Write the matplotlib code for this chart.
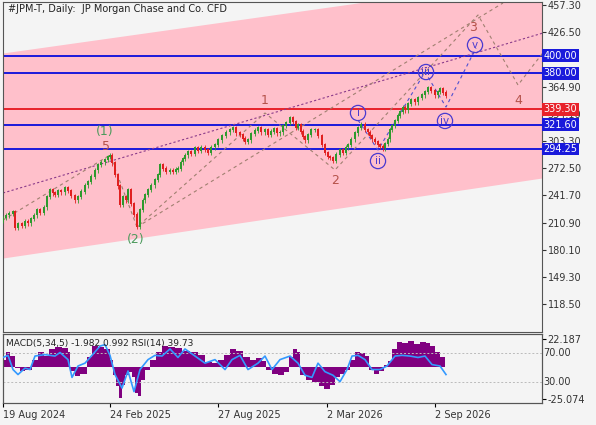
import matplotlib
matplotlib.use("Agg")
import matplotlib.pyplot as plt
import numpy as np

# price path (x = bar position, close values)
px = [3,6,9,13,15,18,22,25,28,31,34,37,40,44,47,50,53,55,58,61,65,68,71,75,78,81,85,88,91,95,98,101,105,108,110,
      112,115,118,120,123,126,128,131,134,137,140,143,145,148,151,155,158,160,163,166,170,173,176,178,181,183,185,
      188,191,195,198,201,205,208,211,215,218,222,226,230,233,236,240,243,245,248,251,255,258,261,265,268,271,274,
      277,280,283,286,290,293,296,298,301,303,305,308,311,315,318,322,325,328,330,333,336,340,343,346,348,351,355,
      358,361,365,368,370,372,375,378,380,383,385,388,390,392,395,398,400,403,405,408,411,415,418,422,425,428,431,
      435,438,440,443,446]
pc = [216,219,221,223,205,209,207,212,210,215,219,225,222,228,240,248,244,242,247,245,250,247,241,236,240,246,253,
      257,263,270,276,279,282,285,287,278,265,252,231,240,236,248,232,220,206,225,236,242,248,253,259,265,276,272,
      268,270,268,271,272,279,283,287,291,289,295,292,296,293,290,296,299,304,309,313,316,318,312,310,306,302,304,
      311,315,318,313,316,310,314,317,312,313,320,324,329,325,318,321,314,308,304,310,316,316,309,299,290,285,284,
      281,288,293,290,296,299,305,312,318,322,316,313,309,305,302,299,297,295,300,305,316,320,326,332,336,341,338,
      345,350,347,352,355,359,363,360,355,359,362,358,354,350,346,342]

macd_x = [2,6,10,15,20,25,32,38,44,49,55,62,68,70,75,80,87,92,98,104,110,113,116,119,122,125,129,132,135,138,141,145,
          150,156,162,168,175,182,190,198,205,212,218,224,230,236,243,250,256,262,266,272,278,284,289,293,297,300,
          306,312,319,324,330,335,340,345,350,355,360,365,369,374,379,384,388,392,397,402,408,414,420,426,430,435,
          440,445]
macd_v = [6,12,9,-1,-3,-2,6,12,9,14,16,15,12,-3,-7,-5,8,17,16,14,6,-6,-15,-24,-14,-6,-4,-8,-20,-23,-10,-2,6,12,17,
          16,15,13,12,10,4,3,6,10,14,13,8,6,7,5,-2,-5,-6,-4,8,14,12,-6,-10,-12,-15,-17,-14,-8,-5,-2,6,12,11,
          9,-2,-5,-3,2,5,14,20,19,21,18,20,19,17,12,8,4]

rsi_x = [3,8,13,18,25,30,35,45,55,60,68,72,78,85,92,100,105,110,115,122,128,134,140,148,155,162,170,178,185,195,
         205,215,225,232,240,248,258,265,272,280,290,298,305,312,318,325,333,340,347,352,358,365,372,380,387,395,
         402,410,418,425,432,440,446]
rsi_v = [64,67,47,40,49,47,66,68,66,71,61,36,52,56,67,80,82,67,40,21,45,16,47,61,67,66,76,64,76,66,
         56,61,47,61,67,47,56,66,47,61,66,56,39,36,56,44,39,30,47,66,67,61,47,47,52,66,
         67,66,64,66,54,52,40]

levels_blue = [400.00, 380.00, 321.60, 294.25]
level_red = 339.30
yticks = [457.30, 426.50, 364.90, 334.10, 303.30, 272.50, 241.70, 210.90, 180.10, 149.30, 118.50]
xtick_pos = [3, 110, 218, 327, 435]
xtick_labels = ["19 Aug 2024", "24 Feb 2025", "27 Aug 2025", "2 Mar 2026", "2 Sep 2026"]

chan_x = [3, 542]
chan_up = [403, 489]
chan_lo = [170.8, 261.4]

wave_x = [110, 137, 265, 335, 478, 518, 545]
wave_y = [287.4, 205.9, 335.0, 270.5, 446, 366.7, 406.3]
sub_x = [358, 378, 425, 446, 476]
sub_y = [327, 293.1, 381.4, 341.8, 408.6]

bg = "#f4f4f4"
fig = plt.figure(figsize=(5.96, 4.25), dpi=100, facecolor=bg)
ax = fig.add_axes([3/596, (425-332)/425, 539/596, 330/425], facecolor=bg)
ax.set_xlim(3, 542)
ax.set_ylim(87.0, 460.7)

ax.fill_between(chan_x, chan_lo, chan_up, color="#ffc0cb", zorder=0, lw=0)

for lv in levels_blue:
    ax.axhline(lv, color="#1a1adb", lw=1.4, zorder=2)
ax.axhline(level_red, color="#e8222a", lw=1.4, zorder=2)

ax.plot([3, 543], [244.4, 425.6], color="#8a3a8a", lw=0.8, ls=(0, (2, 2)), zorder=2)
ax.plot([137, 503], [205.9, 459.6], color="#a08070", lw=0.8, ls=(0, (3, 3)), zorder=2)
ax.plot([3, 110], [213.8, 287.4], color="#a08070", lw=0.8, ls=(0, (3, 3)), zorder=2)
ax.plot(wave_x, wave_y, color="#a08070", lw=0.8, ls=(0, (3, 3)), zorder=2)
ax.plot(sub_x, sub_y, color="#5050d0", lw=0.8, ls=(0, (3, 3)), zorder=2)

opens = [pc[0] - 3] + pc[:-1]
for x, o, c in zip(px, opens, pc):
    col = "#2e9a2e" if c >= o else "#e02020"
    ax.vlines(x, min(o, c) - 2.5, max(o, c) + 2.5, color=col, lw=0.6, zorder=3)
    ax.bar(x, abs(c - o) + 1, bottom=min(o, c), width=2.0, color=col, zorder=3, lw=0)

brown = "#b5524a"; green = "#4c9a5c"; purple = "#4a3ad0"
for t, x, y, c in [("(1)", 105, 314.6, green), ("(2)", 136, 191.2, green), ("5", 106, 296.5, brown),
                   ("1", 265, 348.6, brown), ("2", 335, 259.1, brown), ("3", 473, 431.3, brown),
                   ("4", 518, 349.7, brown)]:
    ax.text(x, y, t, color=c, fontsize=9, ha="center", va="center", zorder=5)
for t, x, y in [("i", 358, 335.0), ("ii", 378, 280.6), ("iii", 426, 381.4), ("iv", 445, 326.0), ("v", 475, 412.0)]:
    ax.text(x, y, t, color=purple, fontsize=7.5, ha="center", va="center", zorder=5,
            bbox=dict(boxstyle="circle,pad=0.25", fc="none", ec=purple, lw=0.9))

ax.text(0.01, 0.995, "#JPM-T, Daily:  JP Morgan Chase and Co. CFD", transform=ax.transAxes,
        fontsize=7, va="top", ha="left", color="#222222")

ax.yaxis.tick_right()
ax.set_yticks(yticks)
ax.set_yticklabels([f"{v:.2f}" for v in yticks], fontsize=7, color="#333333")
ax.tick_params(axis="y", length=3, pad=1, colors="#333333")
ax.set_xticks([])
for lv, col in [(400.00, "#1a1adb"), (380.00, "#1a1adb"), (339.30, "#e8222a"), (321.60, "#1a1adb"), (294.25, "#1a1adb")]:
    ax.text(1.003, lv, f"{lv:.2f}", transform=ax.get_yaxis_transform(), fontsize=7, color="white",
            va="center", ha="left", zorder=6, clip_on=False,
            bbox=dict(boxstyle="square,pad=0.15", fc=col, ec="none"))
for s in ax.spines.values():
    s.set_color("#555555"); s.set_linewidth(0.8)

ax2 = fig.add_axes([3/596, (425-403)/425, 539/596, 69/425], facecolor=bg)
ax2.set_xlim(3, 542)
ax2.set_ylim(0, 97)
ax3 = ax2.twinx()
ax3.set_ylim(-28.28, 26.19)
ax3.fill_between(macd_x, 0, macd_v, step="post", color="#800080", lw=0, zorder=1)
ax2.set_zorder(ax3.get_zorder() + 1); ax2.patch.set_visible(False)
ax3.patch.set_facecolor(bg); ax3.patch.set_visible(True)
ax2.plot(rsi_x, rsi_v, color="#3399ff", lw=1.2, zorder=3)
for lv in [70, 30]:
    ax2.axhline(lv, color="#bbbbbb", lw=0.7, ls=(0, (2, 2)), zorder=2)
ax2.set_yticks([])
ax3.set_yticks([22.187, -25.074])
ax3.set_yticklabels(["22.187", "-25.074"], fontsize=7, color="#333333")
ax3.tick_params(axis="y", length=3, pad=1)
for v in [70, 30]:
    ax2.text(1.003, v, f"{v:.2f}", transform=ax2.get_yaxis_transform(), fontsize=7, color="#333333",
             va="center", ha="left", clip_on=False)
ax2.text(0.005, 0.93, "MACD(5,34,5) -1.982 0.992 RSI(14) 39.73", transform=ax2.transAxes,
         fontsize=6.5, va="top", ha="left", color="#222222", zorder=5)
ax2.set_xticks(xtick_pos)
ax2.set_xticklabels(xtick_labels, fontsize=7, color="#333333", ha="left")
ax2.tick_params(axis="x", length=3, pad=2)
for a in (ax2, ax3):
    for s in a.spines.values():
        s.set_color("#555555"); s.set_linewidth(0.8)

fig.savefig("out.png", dpi=100, facecolor=bg)
